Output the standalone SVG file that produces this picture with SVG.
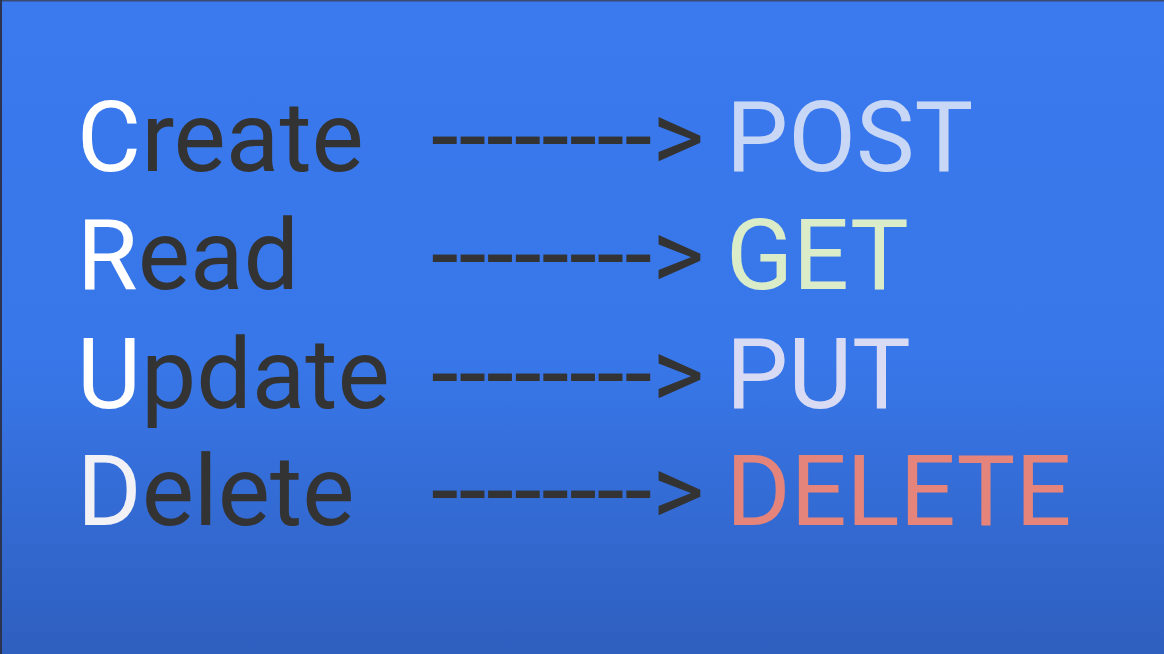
<svg xmlns="http://www.w3.org/2000/svg" width="1164" height="654" viewBox="0 0 1164 654">
<defs>
<linearGradient id="bg" x1="0" y1="0" x2="0" y2="1">
<stop offset="0" stop-color="#3a79ee"/>
<stop offset="0.55" stop-color="#3877e9"/>
<stop offset="1" stop-color="#2f5fbf"/>
</linearGradient>
<style>
text{font-family:Roboto,"Liberation Sans",sans-serif;font-size:98.5px;}
.dk{fill:#333333;}
.wh{fill:#ffffff;}
.arrow{fill:#333333;font-size:100px;}
</style>
</defs>
<rect x="0" y="0" width="1164" height="654" fill="url(#bg)"/>
<rect x="0" y="0" width="1164" height="1.5" fill="#3a4a70"/>
<rect x="0" y="0" width="2" height="654" fill="#2a3450"/>
<g id="create"><text x="77" y="171"><tspan class="wh">C</tspan><tspan class="dk">reate</tspan></text></g>
<g id="read"><text x="77" y="289"><tspan class="wh">R</tspan><tspan class="dk">ead</tspan></text></g>
<g id="update"><text x="77" y="408"><tspan class="wh">U</tspan><tspan class="dk">pdate</tspan></text></g>
<g id="delete"><text x="77" y="525"><tspan fill="#f2f2f6">D</tspan><tspan class="dk">elete</tspan></text></g>
<g id="post"><text x="726" y="171" fill="#c9d7f6">POST</text></g>
<g id="get"><text x="726" y="289" fill="#dbecc9">GET</text></g>
<g id="put"><text x="726" y="408" fill="#d9dbf4">PUT</text></g>
<g id="delete-method"><text x="726" y="525" fill="#e4847b">DELETE</text></g>
<g id="connectors">
<text class="arrow" x="431" y="171">--------&gt;</text>
<text class="arrow" x="431" y="289">--------&gt;</text>
<text class="arrow" x="431" y="408">--------&gt;</text>
<text class="arrow" x="431" y="525">--------&gt;</text>
</g>
</svg>
